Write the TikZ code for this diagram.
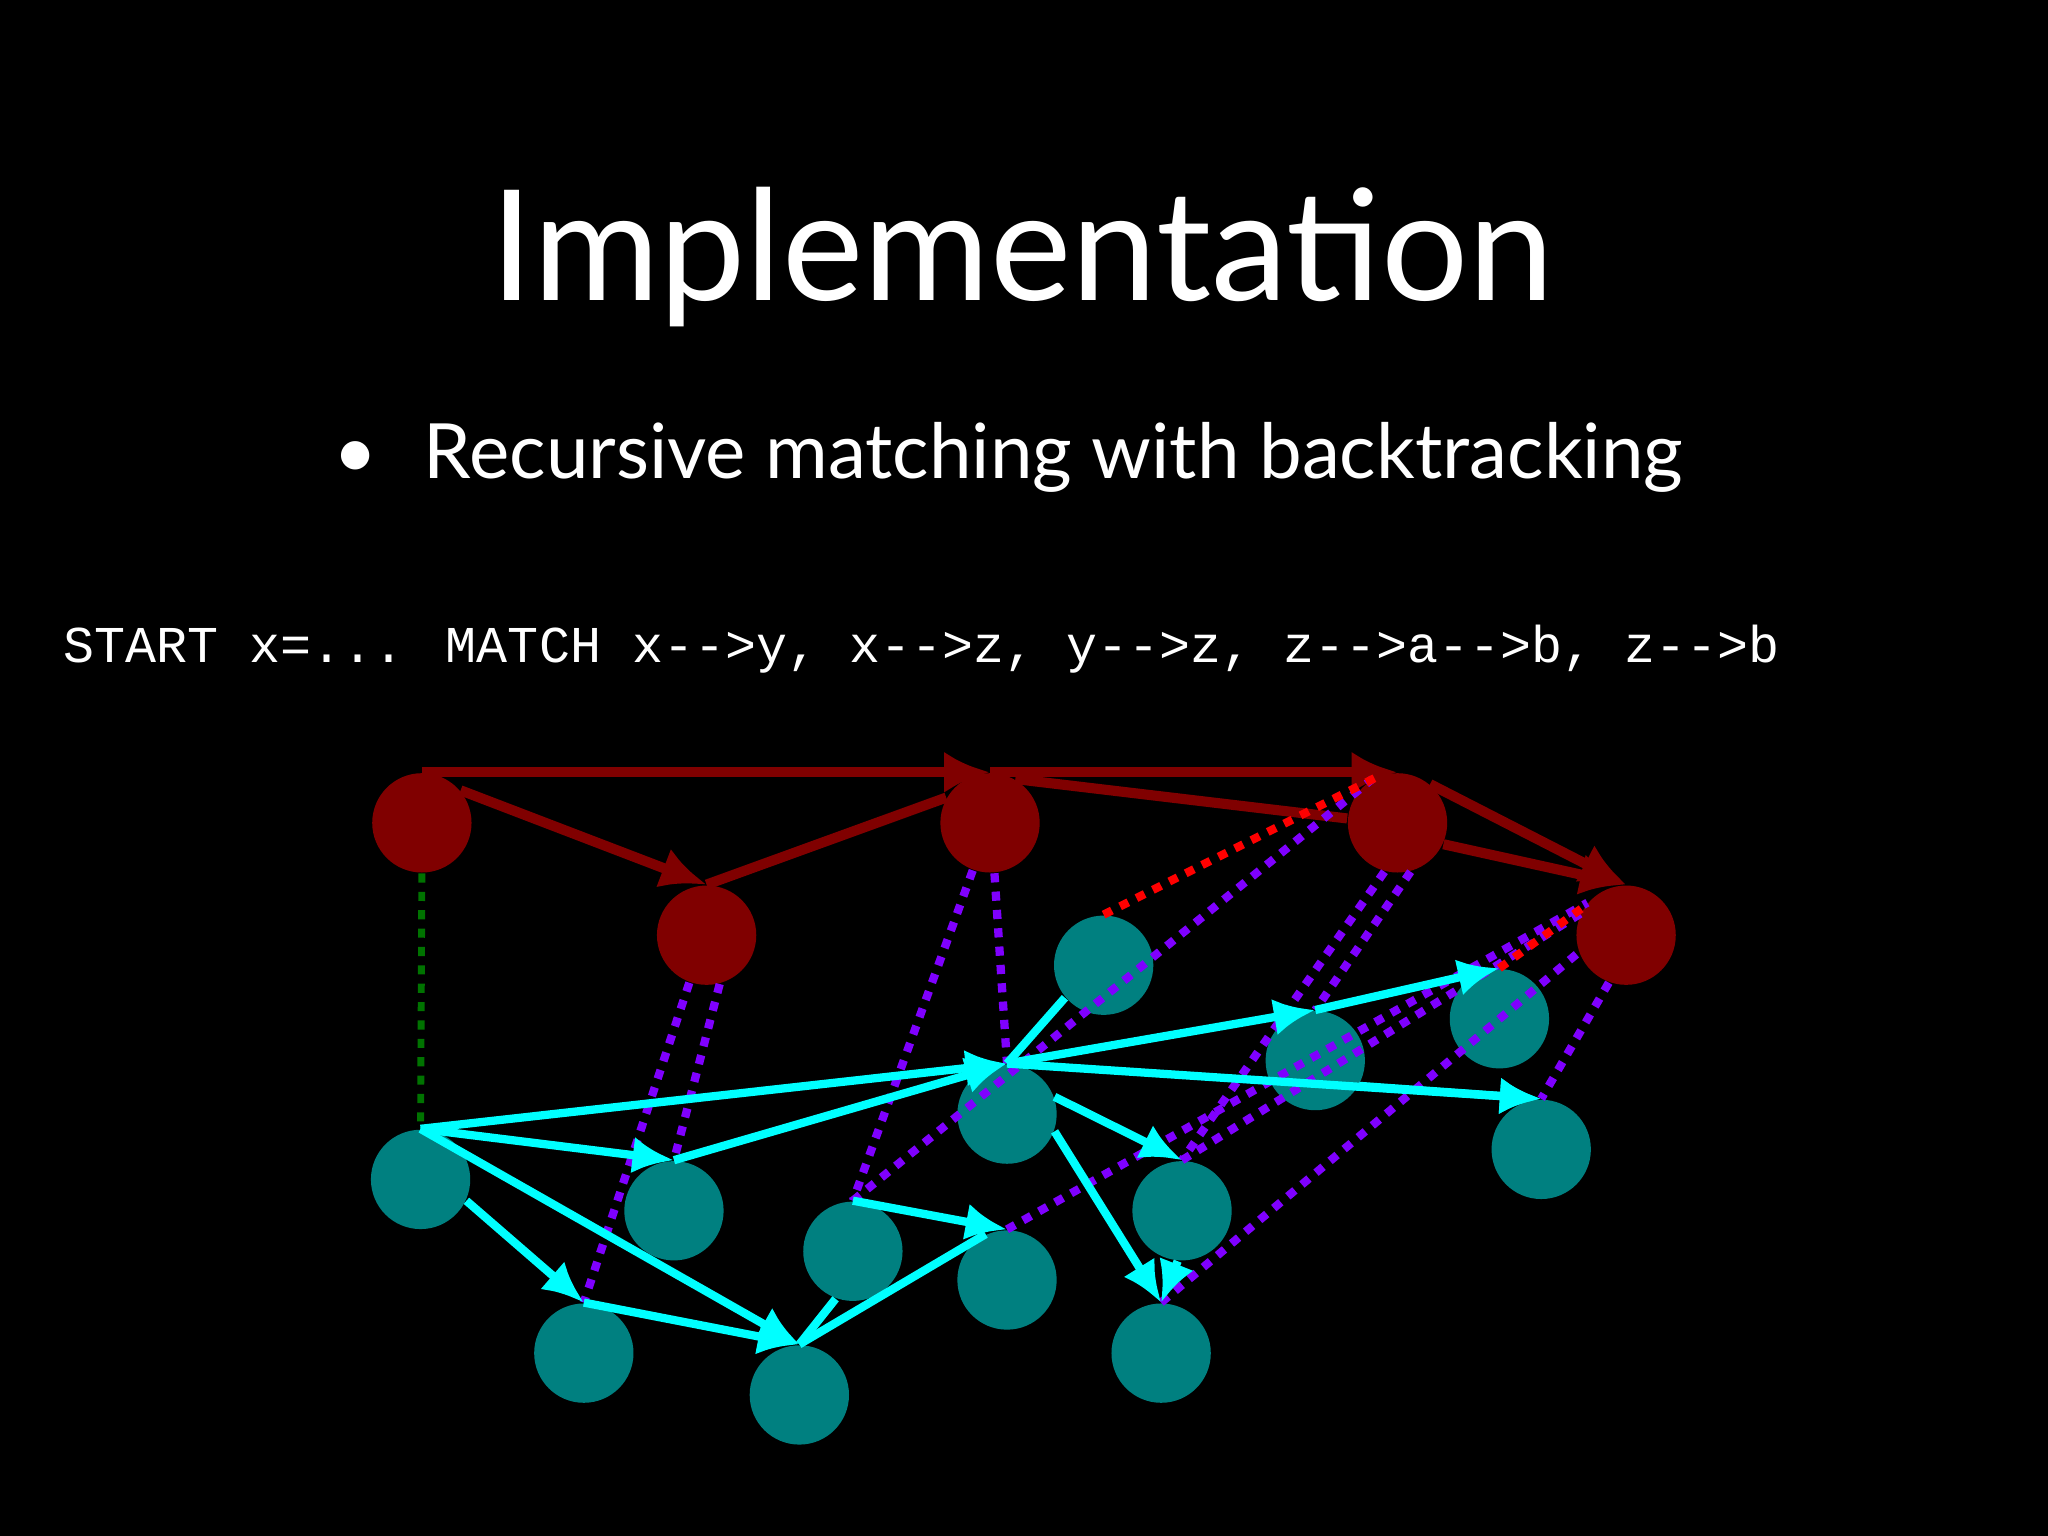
\documentclass[tikz,border=0pt]{standalone}
\usepackage{fontspec}
\setmainfont{Lato}
\newfontfamily\codefont{Liberation Mono}
\usetikzlibrary{arrows.meta}
\definecolor{tealn}{HTML}{008080}
\definecolor{redn}{HTML}{800000}
\definecolor{purp}{HTML}{7F00FF}
\definecolor{cyn}{HTML}{00FFFF}
\definecolor{redd}{HTML}{FF0000}
\tikzset{
 x=0.01cm,y=-0.01cm,
 tnd/.style={circle,minimum size=0.76cm,inner sep=0pt,fill=tealn},
 rnd/.style={circle,minimum size=0.76cm,inner sep=0pt,fill=redn},
 redarr/.style={draw=redn,line width=2.2pt,-{Latex[length=10pt,width=9pt]}},
 redln/.style={draw=redn,line width=2.2pt},
 cyarr/.style={draw=cyn,line width=1.8pt,-{Latex[length=9pt,width=8pt]}},
 cyln/.style={draw=cyn,line width=1.8pt},
 pdot/.style={draw=purp,line width=1.8pt,dash pattern=on 2pt off 2pt},
 rdot/.style={draw=redd,line width=1.8pt,dash pattern=on 2pt off 2pt},
 gdot/.style={draw=green!45!black,line width=1.5pt,dash pattern=on 2pt off 2pt},
}
\begin{document}
\begin{tikzpicture}
\fill[black] (0,0) rectangle (1568,1176);
\node[text=white,font=\fontsize{33.5}{40}\selectfont] (title) at (783,197) {Implementation};
\node[text=white,font=\fontsize{16.6}{20}\selectfont,anchor=west,inner sep=0pt] (bul) at (255,350) {\textbullet\hspace{0.6em}Recursive matching with backtracking};
\node[text=white,font=\codefont\fontsize{11.25}{14}\selectfont,anchor=west,inner sep=0pt] (code) at (48,497) {START x=... MATCH x-->y, x-->z, y-->z, z-->a-->b, z-->b};
% nodes
\node[rnd] (R1) at (323,630) {};
\node[rnd] (R2) at (541,716) {};
\node[rnd] (R3) at (758,630) {};
\node[rnd] (R4) at (1070,630) {};
\node[rnd] (R5) at (1245,716) {};
\foreach \n/\x/\y in {Ta/845/739,Tb/1148/780,Tc/1007/812,H/771/853,Td/1180/880,Ty/322/903,Te/516/927,Tf/905/927,Tg/653/958,Th/771/980,Ti/447/1036,Tj/889/1036,Tk/612/1068}
  \node[tnd] (\n) at (\x,\y) {};
% red edges
\draw[redarr] (R1.north) -- (R3.north);
\draw[redarr] (R3.north) -- (R4.north);
\draw[redarr] (R1.40) -- (R2.north);
\draw[redln] (R3.150) -- (R2.north);
\draw[redln] (R3.60) -- (R4.175);
\draw[redarr] (R4.50) -- (R5.north);
\draw[redarr] (R4.-25) -- (R5.north);
% dotted
\draw[gdot] (R1.south) -- (Ty.north);
\draw[pdot] (R2.-110) -- (Ti.north);
\draw[pdot] (R2.-75) -- (Te.north);
\draw[pdot] (R3.-110) -- (Tg.north);
\draw[pdot] (R3.-85) -- (H.north);
\draw[pdot] (Tg.north) -- (R4.120);
\draw[pdot] (R4.-105) -- (Tf.north);
\draw[pdot] (R4.-75) -- (Tc.north);
\draw[pdot] (Th.north) -- (R5.140);
\draw[pdot] (Tf.north) -- (R5.155);
\draw[pdot] (Tj.north) -- (R5.-160);
\draw[pdot] (R5.-110) -- (Td.north);
\draw[rdot] (Ta.north) -- (R4.110);
\draw[rdot] (Tb.north) -- (R5.145);
% cyan edges
\draw[cyarr] (Ty.north) -- (H.north);
\draw[cyarr] (Ty.north) -- (Te.north);
\draw[cyarr] (Te.north) -- (H.north);
\draw[cyarr] (Ty.-25) -- (Ti.north);
\draw[cyarr] (Ty.north) -- (Tk.north);
\draw[cyarr] (Ti.north) -- (Tk.north);
\draw[cyln] (Tk.north) -- (Tg.250);
\draw[cyln] (Tk.north) -- (Th.115);
\draw[cyarr] (Tg.north) -- (Th.north);
\draw[cyln] (Ta.220) -- (H.north);
\draw[cyarr] (H.north) -- (Tc.north);
\draw[cyarr] (Tc.north) -- (Tb.north);
\draw[cyarr] (H.north) -- (Td.north);
\draw[cyarr] (Tc.-30) -- (Td.north);
\draw[cyarr] (H.20) -- (Tf.north);
\draw[cyarr] (H.-20) -- (Tj.north);
\draw[cyarr] (Tf.-95) -- (Tj.north);
\end{tikzpicture}
\end{document}
